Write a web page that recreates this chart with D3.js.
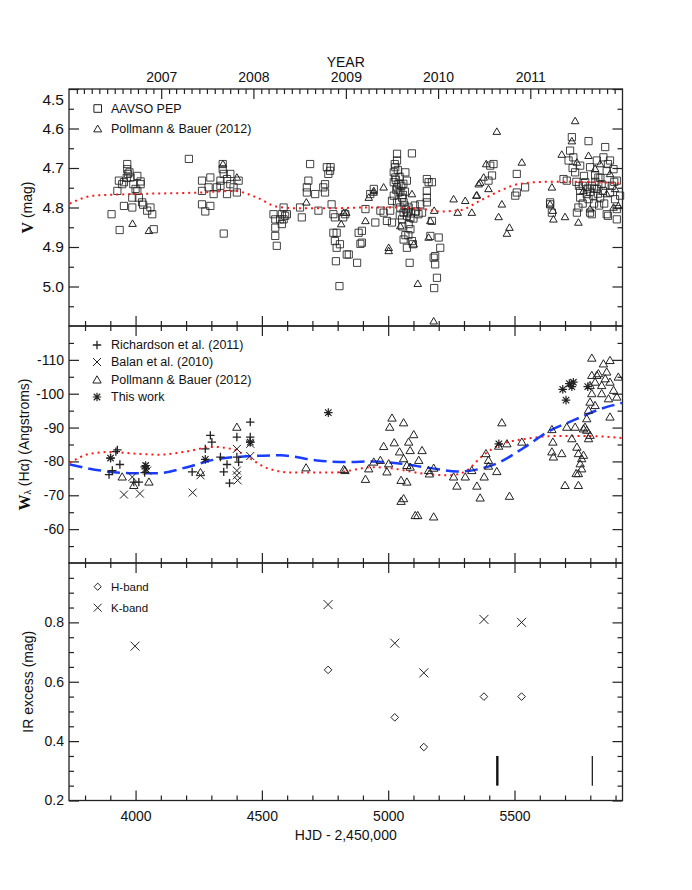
<!DOCTYPE html>
<html><head><meta charset="utf-8">
<script src="https://cdn.jsdelivr.net/npm/d3@7"></script>
<style>
html,body{margin:0;padding:0;background:#fff;}
text{font-family:"Liberation Sans",Arial,Helvetica,sans-serif;fill:#111;}
</style></head>
<body>
<script>
// ---------------- DATA ----------------
// Top axis (years)
const yearLabels = [2007, 2008, 2009, 2010, 2011];
const yearHJD = [4101.5, 4466.5, 4832.5, 5197.5, 5562.5];
// HJD axis
const hjdMajor = [4000, 4500, 5000, 5500];
const hjdMinor = [3800, 3900, 4100, 4200, 4300, 4400, 4600, 4700, 4800, 4900, 5100, 5200, 5300, 5400, 5600, 5700, 5800, 5900];
const vMajor = [4.5, 4.6, 4.7, 4.8, 4.9, 5.0];
const wMajor = [-110, -100, -90, -80, -70, -60];
const irMajor = [0.2, 0.4, 0.6, 0.8];

// Panel 1: V magnitude
const aavsoPEP = [
[3905,4.817],[3937,4.857],[3928,4.758],[3934,4.732],[3954,4.736],[3967,4.690],[3967,4.703],[3970,4.715],[3965,4.725],[3980,4.724],
[3954,4.796],[3987,4.800],[3991,4.741],[4007,4.720],[3987,4.775],[4000,4.753],[4020,4.741],[4020,4.734],[4013,4.775],[4026,4.787],
[4030,4.793],[4046,4.808],[4059,4.800],[4066,4.817],[4072,4.855],[4007,4.758],[3947,4.741],[3976,4.711],
[4211,4.677],
[4263,4.792],[4276,4.810],[4296,4.796],[4263,4.732],[4263,4.758],[4296,4.724],[4309,4.766],[4322,4.749],[4336,4.732],[4345,4.690],
[4345,4.703],[4349,4.715],[4362,4.728],[4375,4.741],[4362,4.766],[4388,4.749],[4401,4.762],[4408,4.732],[4349,4.866],[4336,4.745],
[4375,4.715],[4289,4.749],
[4546,4.817],[4553,4.830],[4553,4.851],[4553,4.872],[4559,4.897],[4572,4.830],[4579,4.817],[4586,4.800],[4592,4.821],[4599,4.817],
[4579,4.842],[4586,4.830],
[4651,4.800],[4658,4.825],[4678,4.749],[4684,4.732],[4691,4.690],[4678,4.762],[4711,4.766],[4724,4.808],[4743,4.749],[4750,4.741],
[4757,4.698],[4763,4.715],[4770,4.707],[4772,4.698],[4750,4.762],[4776,4.792],[4783,4.817],[4789,4.825],[4783,4.864],[4796,4.864],
[4789,4.885],[4796,4.902],[4793,4.936],[4807,4.999],[4809,4.893],[4822,4.825],[4836,4.919],
[4844,4.919],[4830,4.817],[4883,4.864],[4890,4.892],[4877,4.940],
[4896,4.859],[4896,4.889],[4910,4.804],[4929,4.766],[4943,4.753],[4949,4.838],[4995,4.834],[5015,4.838],[4982,4.813],[4969,4.808],
[5035,4.664],[5035,4.681],[5028,4.698],[5022,4.711],[5028,4.724],[5022,4.736],[5035,4.749],[5041,4.762],[5022,4.770],[5055,4.775],
[5068,4.711],[5074,4.732],[5061,4.787],[5081,4.800],[5048,4.800],[5061,4.813],[5074,4.821],[5088,4.826],[5055,4.830],[5081,4.842],
[5088,4.855],[5061,4.881],[5094,4.885],[5074,4.902],[5098,4.893],[5085,4.940],[5094,4.663],[5120,4.817],[5127,4.792],[5153,4.728],
[5160,4.736],[5173,4.736],[5153,4.758],[5153,4.775],[5153,4.787],[5134,4.813],[5173,4.834],[5167,4.872],[5200,4.876],[5206,4.902],
[5186,4.923],[5180,4.927],[5186,4.944],[5193,4.978],[5182,5.004],[5008,4.808],[5035,4.787],[5015,4.783],[5041,4.740],[5048,4.760],
[5030,4.730],[5038,4.705],[5045,4.722],[5052,4.745],[5058,4.768],[5065,4.795],[5070,4.805],[5078,4.812],[5066,4.760],[5060,4.740],
[5026,4.690],[5032,4.755],[5090,4.815],[5100,4.828],[5110,4.810],[5105,4.795],[5046,4.820],[5056,4.848],[5068,4.870],[5080,4.870],
[5404,4.694],[5411,4.719],[5417,4.690],[5397,4.732],[5509,4.715],[5503,4.770],[5509,4.762],[5542,4.749],
[5727,4.622],[5793,4.632],[5859,4.647],[5720,4.656],[5733,4.673],[5714,4.681],[5740,4.711],[5707,4.732],[5760,4.694],[5799,4.698],
[5826,4.681],[5852,4.673],[5878,4.681],[5865,4.707],[5892,4.703],[5905,4.732],[5780,4.736],[5806,4.745],[5826,4.753],[5845,4.741],
[5812,4.770],[5786,4.766],[5760,4.775],[5793,4.779],[5839,4.775],[5878,4.762],[5898,4.779],[5918,4.770],[5905,4.804],[5865,4.817],
[5753,4.800],[5747,4.813],[5799,4.813],[5806,4.817],[5641,4.787],[5694,4.728],[5870,4.821],[5905,4.830],[5760,4.758],[5832,4.724],
[5819,4.719],[5641,4.792],[5648,4.813],
[5770,4.745],[5790,4.752],[5800,4.760],[5815,4.752],[5830,4.765],[5850,4.758],[5860,4.745],[5775,4.720],[5820,4.735],[5840,4.725],
[5855,4.790],[5835,4.795],[5815,4.790],[5885,4.745],[5895,4.735],[5770,4.790],[5755,4.745],[5745,4.735],[5730,4.700],[5870,4.690]
];
const pollmannV = [
[3988,4.841],[4053,4.859],[4401,4.724],[4346,4.690],[4676,4.787],[4834,4.813],[4814,4.842],[4824,4.813],[4942,4.762],[4923,4.775],
[4943,4.758],[4982,4.749],[4910,4.834],[5002,4.902],[5002,4.910],[5048,4.847],[5094,4.766],[5101,4.893],[5167,4.834],[5160,4.876],
[5182,4.808],[5117,4.993],[5180,5.088],[5259,4.779],[5305,4.783],[5275,4.813],[5331,4.813],[5358,4.741],[5349,4.770],
[5351,4.769],[5364,4.737],[5378,4.724],[5388,4.690],[5397,4.753],[5430,4.608],[5450,4.792],[5437,4.824],[5470,4.866],[5480,4.851],[5529,4.686],
[5740,4.581],[5727,4.632],[5687,4.666],[5648,4.749],[5641,4.792],[5652,4.808],[5654,4.830],[5700,4.824],[5753,4.838],[5799,4.804],
[5793,4.669],[5747,4.686],[5819,4.702],[5839,4.690],[5878,4.715],[5898,4.753],[5892,4.800],[5911,4.796],[5865,4.766],[5773,4.758]
];
const vFitHJD = [3739, 3835, 3994, 4257, 4389, 4481, 4560, 4650, 4784, 4900, 5000, 5139, 5205, 5284, 5363, 5442, 5521, 5627, 5732, 5927];
const vFit    = [4.790, 4.770, 4.766, 4.762, 4.758, 4.775, 4.798, 4.802, 4.802, 4.800, 4.800, 4.804, 4.810, 4.807, 4.783, 4.758, 4.740, 4.735, 4.735, 4.739];

// Panel 2: H-alpha equivalent width
const richardson = [
[3895,-76.1],[3908,-77.3],[3901,-81.0],[3928,-83.4],[3922,-82.9],[3938,-79.1],[3993,-73.9],[4013,-73.9],[4036,-76.7],[4036,-78.4],
[4224,-76.9],[4296,-87.7],[4302,-85.7],[4276,-83.7],[4336,-81.3],[4349,-76.9],[4362,-79.1],[4372,-73.6],[4401,-87.2],[4401,-81.3],
[4408,-79.8],[4454,-91.6],[4454,-87.2],[4454,-85.7]
];
const balan = [
[3954,-70.2],[4017,-70.5],[3987,-75.4],[4046,-77.3],[4226,-70.8],[4257,-75.9],[4401,-83.7],[4401,-77.3],[4401,-75.9],[4404,-74.4],
[4454,-81.6],[4454,-85.2]
];
const pollmannW = [
[3947,-75.4],[3993,-72.9],[4053,-73.9],[4257,-76.7],[4401,-90.1],[4675,-78.1],[4829,-77.3],
[4824,-77.6],[4910,-74.7],[4923,-77.8],[4943,-79.8],[4969,-80.3],[4982,-84.4],[4995,-76.9],[5002,-79.3],[5006,-90.1],[5015,-92.8],
[5024,-85.5],[5045,-82.8],[5051,-74.4],[5051,-68.2],[5061,-69.0],[5061,-91.4],[5074,-73.9],[5074,-78.8],[5081,-85.7],[5087,-83.2],
[5101,-87.9],[5107,-64.0],[5117,-64.0],[5121,-80.3],[5134,-83.2],[5087,-78.3],[5061,-80.8],[5160,-77.3],[5163,-76.3],[5180,-78.0],
[5180,-63.6],[5259,-75.4],[5272,-72.7],[5305,-75.4],[5331,-77.3],[5351,-72.7],[5364,-69.2],[5380,-75.4],[5387,-82.3],[5397,-80.3],
[5397,-78.6],[5430,-77.0],[5450,-91.4],[5437,-84.5],[5470,-85.2],[5480,-69.7],[5529,-85.7],
[5648,-89.4],[5652,-85.7],[5648,-82.8],[5654,-81.3],[5687,-82.3],[5707,-90.1],[5740,-90.1],[5727,-86.7],[5747,-84.2],[5753,-82.3],
[5766,-80.8],[5760,-79.3],[5766,-77.8],[5753,-76.4],[5744,-76.4],[5773,-81.8],[5700,-72.9],[5753,-72.9],[5779,-90.1],[5786,-92.6],
[5793,-95.1],[5799,-97.5],[5806,-100.0],[5799,-102.4],[5806,-105.4],[5806,-110.5],[5852,-108.8],[5878,-109.8],[5832,-105.9],[5859,-104.4],
[5819,-103.4],[5845,-102.4],[5878,-103.4],[5892,-101.0],[5905,-99.0],[5872,-98.5],[5845,-100.0],[5911,-104.9],[5878,-93.1],[5819,-96.5],
[5799,-87.7],[5786,-89.2],[5793,-86.7],[5773,-89.6],[5826,-105.4],[5865,-106.4]
];
const thisWork = [
[3901,-81.0],[4040,-78.8],[4040,-77.8],[4276,-80.6],[4454,-85.7],[4763,-94.4],[5438,-85.2],
[5691,-101.3],[5704,-98.1],[5727,-102.1],[5733,-103.4],[5717,-103.0],[5790,-102.1]
];
const wRedHJD = [3739, 3822, 3901, 4000, 4100, 4191, 4310, 4389, 4455, 4521, 4626, 4784, 4941, 5007, 5139, 5244, 5310, 5376, 5442, 5547, 5666, 5785, 5927];
const wRed    = [-79.6, -82.3, -82.8, -82.3, -82.0, -82.8, -84.3, -83.5, -80.8, -78.0, -76.7, -76.7, -78.3, -78.0, -76.4, -75.9, -77.3, -81.8, -84.9, -86.7, -87.5, -87.5, -86.9];
const wBlueHJD = [3739, 3862, 3993, 4085, 4204, 4310, 4442, 4573, 4718, 4837, 4941, 5053, 5205, 5271, 5363, 5442, 5534, 5640, 5732, 5837, 5927];
const wBlue    = [-79.1, -77.3, -76.5, -76.5, -78.3, -80.5, -81.5, -81.8, -80.3, -79.8, -80.0, -79.3, -77.6, -77.0, -77.8, -79.8, -83.9, -89.1, -92.1, -95.4, -97.3];

// Panel 3: IR excess
const irHJD  = [3998, 4762, 5026, 5141, 5379, 5528];
const kBand  = [0.72, 0.86, 0.73, 0.63, 0.81, 0.80];
const hBandHJD = [4762, 5026, 5141, 5379, 5528];
const hBand  = [0.64, 0.48, 0.38, 0.55, 0.55];
const barHJD = [5432, 5808];
const barLo = [0.25, 0.25];
const barHi = [0.35, 0.35];

// ---------------- DRAW ----------------
const W = 692, H = 890;
const L = 69, R = 622.5;
const P1 = [89, 326], P2 = [326, 563], P3 = [563, 800.5];
const svg = d3.select("body").append("svg").attr("width", W).attr("height", H);
svg.append("rect").attr("width", W).attr("height", H).attr("fill", "#fff");

const x = d3.scaleLinear().domain([3736.5, 5927.5]).range([L, R]);
const yV = d3.scaleLinear().domain([4.5, 5.1]).range(P1);
const yW = d3.scaleLinear().domain([-120, -50]).range(P2);
const yI = d3.scaleLinear().domain([0.2, 1.0]).range([P3[1], P3[0]]);

const ink = "#222";
function clean(g){ g.select(".domain").remove(); g.selectAll(".tick line").attr("stroke", ink).attr("stroke-width", 1.2); }

// horizontal HJD ticks on a given edge, dir +1 = downwards, -1 = upwards
function hjdEdge(yPos, dir){
  svg.append("g").attr("transform", `translate(0,${yPos})`)
    .call(d3.axisBottom(x).tickValues(hjdMajor).tickSizeInner(dir*10).tickSizeOuter(0).tickFormat("")).call(clean);
  svg.append("g").attr("transform", `translate(0,${yPos})`)
    .call(d3.axisBottom(x).tickValues(hjdMinor).tickSizeInner(dir*5).tickSizeOuter(0).tickFormat("")).call(clean);
}
function vertEdges(scale, major, minor, labelSize, fmt){
  const gl = svg.append("g").attr("transform", `translate(${L},0)`)
    .call(d3.axisLeft(scale).tickValues(major).tickSizeInner(-10).tickSizeOuter(0).tickPadding(5).tickFormat(fmt)).call(clean);
  gl.selectAll("text").attr("font-size", labelSize).attr("font-family", null).attr("fill", "#111");
  svg.append("g").attr("transform", `translate(${L},0)`)
    .call(d3.axisLeft(scale).tickValues(minor).tickSizeInner(-5).tickSizeOuter(0).tickFormat("")).call(clean);
  svg.append("g").attr("transform", `translate(${R},0)`)
    .call(d3.axisRight(scale).tickValues(major).tickSizeInner(-10).tickSizeOuter(0).tickFormat("")).call(clean);
  svg.append("g").attr("transform", `translate(${R},0)`)
    .call(d3.axisRight(scale).tickValues(minor).tickSizeInner(-5).tickSizeOuter(0).tickFormat("")).call(clean);
  return gl;
}

// Panel 1 axes
const vMinor = [4.55, 4.65, 4.75, 4.85, 4.95, 5.05];
const g1 = vertEdges(yV, vMajor, vMinor, 15.5, d => d.toFixed(1));
g1.selectAll(".tick text").attr("dy", (d) => d === 4.5 ? "1.0em" : "0.32em");
hjdEdge(P1[1], -1);
// year axis on top
const monthHJD = [];
for (let yr = 2006; yr <= 2011; yr++) for (let m = 0; m < 12; m++) {
  const hjd = Date.UTC(yr, m, 1) / 86400000 + 2440587.5 - 2450000;
  if (m !== 0 && hjd > 3736.5 && hjd < 5927.5) monthHJD.push(hjd);
}
const gy = svg.append("g").attr("transform", `translate(0,${P1[0]})`)
  .call(d3.axisTop(x).tickValues(yearHJD).tickSizeInner(-10).tickSizeOuter(0).tickPadding(7)
    .tickFormat((d, i) => yearLabels[i])).call(clean);
gy.selectAll("text").attr("font-size", 14).attr("font-family", null).attr("fill", "#111");
svg.append("g").attr("transform", `translate(0,${P1[0]})`)
  .call(d3.axisTop(x).tickValues(monthHJD).tickSizeInner(-5).tickSizeOuter(0).tickFormat("")).call(clean);
svg.append("text").attr("x", (L + R) / 2).attr("y", 67).attr("text-anchor", "middle").attr("font-size", 14).text("YEAR");

// Panel 2 axes
const wMinor = [-115, -105, -95, -85, -75, -65, -55];
vertEdges(yW, wMajor, wMinor, 14, d => String(d));
hjdEdge(P2[0], 1); hjdEdge(P2[1], -1);

// Panel 3 axes
const irMinor = [0.25, 0.3, 0.35, 0.45, 0.5, 0.55, 0.65, 0.7, 0.75, 0.85, 0.9, 0.95];
vertEdges(yI, irMajor, irMinor, 14, d => d.toFixed(1));
hjdEdge(P3[0], 1);
const gb = svg.append("g").attr("transform", `translate(0,${P3[1]})`)
  .call(d3.axisBottom(x).tickValues(hjdMajor).tickSizeInner(-10).tickSizeOuter(0).tickPadding(11).tickFormat(d => String(d))).call(clean);
gb.selectAll("text").attr("font-size", 14).attr("font-family", null).attr("fill", "#111");
svg.append("g").attr("transform", `translate(0,${P3[1]})`)
  .call(d3.axisBottom(x).tickValues(hjdMinor).tickSizeInner(-5).tickSizeOuter(0).tickFormat("")).call(clean);
svg.append("text").attr("x", (L + R) / 2).attr("y", 840).attr("text-anchor", "middle").attr("font-size", 14).text("HJD - 2,450,000");

// frames
[P1, P2, P3].forEach(p => svg.append("rect").attr("x", L).attr("y", p[0]).attr("width", R - L).attr("height", p[1] - p[0])
  .attr("fill", "none").attr("stroke", ink).attr("stroke-width", 1.3));

// axis titles
const t1 = svg.append("text").attr("transform", `translate(27,${(P1[0] + P1[1]) / 2}) rotate(-90)`).attr("text-anchor", "middle").attr("dominant-baseline", "central");
t1.append("tspan").attr("font-family", "'Liberation Serif','Times New Roman',serif").attr("font-weight", "bold").attr("font-size", 16).text("V");
t1.append("tspan").attr("font-size", 14).text(" (mag)");
const t2 = svg.append("text").attr("transform", `translate(24,${(P2[0] + P2[1]) / 2}) rotate(-90)`).attr("text-anchor", "middle").attr("dominant-baseline", "central");
t2.append("tspan").attr("font-family", "'Liberation Serif','Times New Roman',serif").attr("font-weight", "bold").attr("font-size", 16).text("W");
t2.append("tspan").attr("font-size", 9).attr("dy", 4).text("λ");
t2.append("tspan").attr("font-size", 14).attr("dy", -4).text(" (Hα) (Angstroms)");
svg.append("text").attr("transform", `translate(28,${(P3[0] + P3[1]) / 2}) rotate(-90)`).attr("text-anchor", "middle")
  .attr("dominant-baseline", "central").attr("font-size", 14).text("IR excess (mag)");

// symbol paths
const sym = {
  square: s => `M${-s},${-s}H${s}V${s}H${-s}Z`,
  tri: s => `M0,${-s * 1.0}L${s},${s * 0.72}L${-s},${s * 0.72}Z`,
  plus: s => `M${-s},0H${s}M0,${-s}V${s}`,
  times: s => `M${-s},${-s}L${s},${s}M${-s},${s}L${s},${-s}`,
  star: s => `M${-s},0H${s}M0,${-s}V${s}M${-s * 0.75},${-s * 0.75}L${s * 0.75},${s * 0.75}M${-s * 0.75},${s * 0.75}L${s * 0.75},${-s * 0.75}`,
  diamond: s => `M0,${-s}L${s},0L0,${s}L${-s},0Z`
};
function plotPts(data, ys, shape, size, opts = {}) {
  svg.append("g").selectAll("path").data(data).join("path")
    .attr("transform", d => `translate(${x(d[0])},${ys(d[1])})`)
    .attr("d", sym[shape](size)).attr("fill", "none")
    .attr("stroke", opts.stroke || ink).attr("stroke-width", opts.sw || 1)
    .attr("stroke-opacity", opts.op || 1);
}
function legendItem(px, py, shape, size, label, fs, sw) {
  svg.append("path").attr("transform", `translate(${px},${py})`).attr("d", sym[shape](size)).attr("fill", "none")
    .attr("stroke", ink).attr("stroke-width", sw || 1);
  svg.append("text").attr("x", 111).attr("y", py).attr("dominant-baseline", "central").attr("font-size", fs).text(label);
}

// Panel 1 marks
plotPts(aavsoPEP, yV, "square", 3.6, { op: 0.85 });
plotPts(pollmannV, yV, "tri", 3.8);
const line1 = d3.line().x(d => x(d[0])).y(d => yV(d[1])).curve(d3.curveMonotoneX);
svg.append("path").datum(vFitHJD.map((h, i) => [h, vFit[i]])).attr("d", line1).attr("fill", "none")
  .attr("stroke", "#ff1a1a").attr("stroke-width", 2).attr("stroke-dasharray", "2,4");
legendItem(97.7, 108.5, "square", 3.8, "AAVSO PEP", 12.5);
legendItem(97.7, 129, "tri", 4, "Pollmann & Bauer (2012)", 12.5);

// Panel 2 marks
const line2 = d3.line().x(d => x(d[0])).y(d => yW(d[1])).curve(d3.curveMonotoneX);
svg.append("path").datum(wRedHJD.map((h, i) => [h, wRed[i]])).attr("d", line2).attr("fill", "none")
  .attr("stroke", "#ff1a1a").attr("stroke-width", 2).attr("stroke-dasharray", "2,4");
svg.append("path").datum(wBlueHJD.map((h, i) => [h, wBlue[i]])).attr("d", line2).attr("fill", "none")
  .attr("stroke", "#1a3cff").attr("stroke-width", 2.5).attr("stroke-dasharray", "13,6");
plotPts(pollmannW, yW, "tri", 4.2);
plotPts(richardson, yW, "plus", 4.2, { sw: 1.3 });
plotPts(balan, yW, "times", 4);
plotPts(thisWork, yW, "star", 4.3, { sw: 1.2 });
legendItem(97, 345, "plus", 4.2, "Richardson et al. (2011)", 12.5, 1.3);
legendItem(97, 362, "times", 4, "Balan et al. (2010)", 12.5);
legendItem(97, 380, "tri", 4.2, "Pollmann & Bauer (2012)", 12.5);
legendItem(97, 397, "star", 4.3, "This work", 12.5, 1.2);

// Panel 3 marks
plotPts(irHJD.map((h, i) => [h, kBand[i]]), yI, "times", 4.5);
plotPts(hBandHJD.map((h, i) => [h, hBand[i]]), yI, "diamond", 3.8);
svg.append("g").selectAll("line").data(barHJD).join("line")
  .attr("x1", d => x(d)).attr("x2", d => x(d))
  .attr("y1", (d, i) => yI(barLo[i])).attr("y2", (d, i) => yI(barHi[i]))
  .attr("stroke", "#111").attr("stroke-width", (d, i) => i === 0 ? 2.4 : 1.2);
legendItem(97.7, 586.7, "diamond", 3.6, "H-band", 11.5);
legendItem(97.7, 607.7, "times", 4, "K-band", 11.5);
</script>
</body></html>
